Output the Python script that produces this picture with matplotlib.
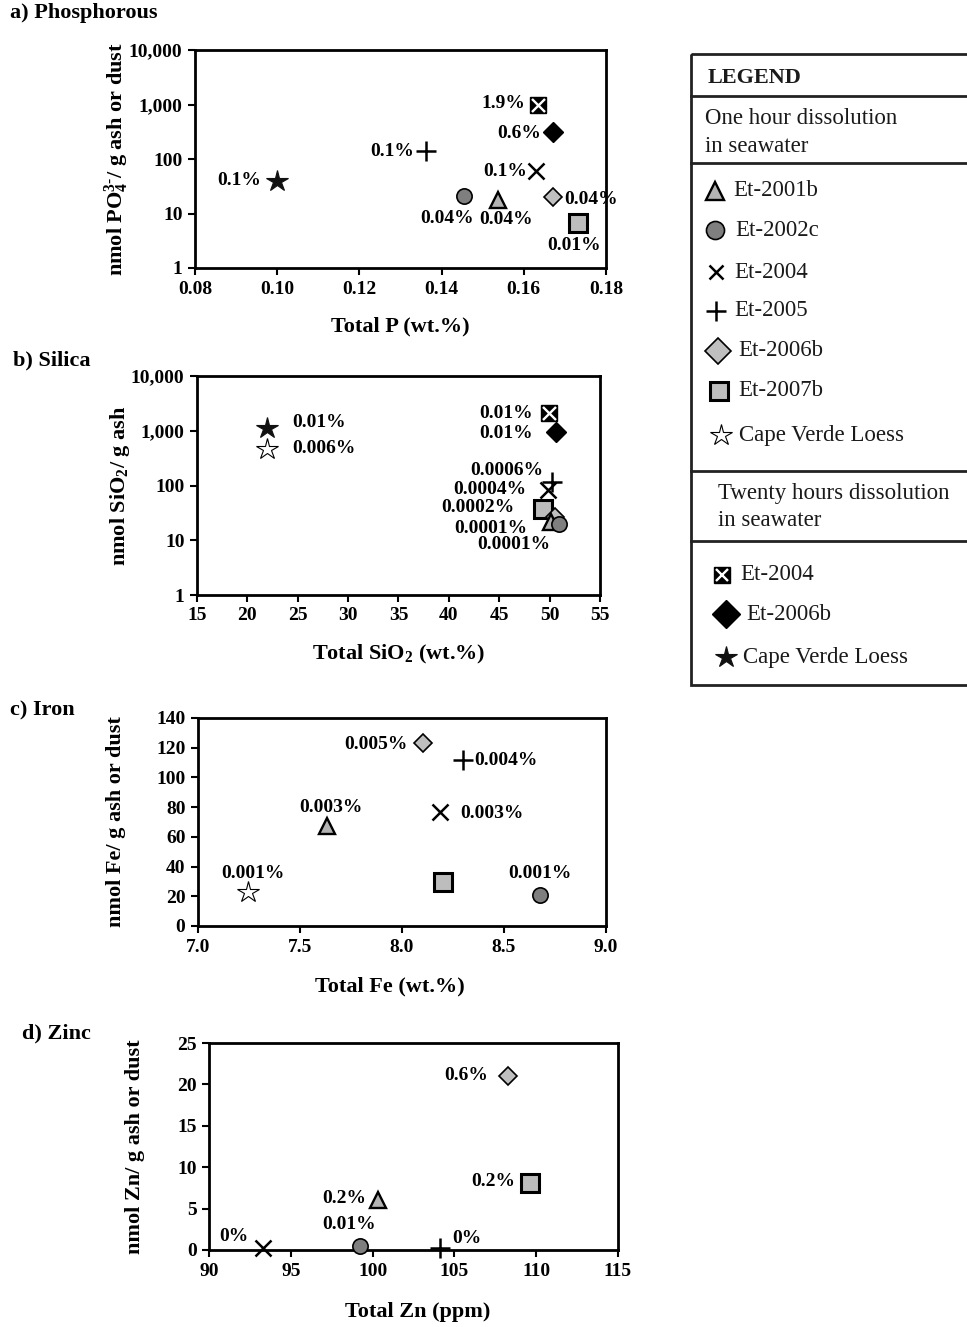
import matplotlib
matplotlib.use("Agg")
import matplotlib.pyplot as plt
from matplotlib.ticker import NullLocator
from matplotlib.patches import Rectangle

plt.rcParams["font.family"] = ["Liberation Serif", "DejaVu Serif"]
plt.rcParams["font.weight"] = "bold"
plt.rcParams["mathtext.fontset"] = "custom"
plt.rcParams["mathtext.rm"] = "Liberation Serif:bold"
plt.rcParams["mathtext.it"] = "Liberation Serif:bold"
plt.rcParams["mathtext.bf"] = "Liberation Serif:bold"

# ---- data ----
# a) Phosphorous
p_samples = ["Et-2001b", "Et-2002c", "Et-2004", "Et-2005", "Et-2006b", "Et-2007b",
             "Loess20", "Et-2004_20", "Et-2006b_20"]
p_total = [0.1538, 0.1455, 0.163, 0.1362, 0.167, 0.1732, 0.100, 0.1634, 0.167]
p_nmol = [18, 21, 61, 138, 20, 6.8, 40, 1000, 316]
p_pct = ["0.04%", "0.04%", "0.1%", "0.1%", "0.04%", "0.01%", "0.1%", "1.9%", "0.6%"]

# b) Silica
si_samples = ["Et-2007b", "Et-2006b", "Et-2001b", "Et-2002c", "Et-2004", "Et-2005",
              "Loess", "Loess20", "Et-2004_20", "Et-2006b_20"]
si_total = [49.3, 50.5, 50.1, 50.9, 49.8, 50.2, 21.9, 21.9, 49.9, 50.6]
si_nmol = [37.5, 26.7, 22, 19.8, 84, 114, 464, 1130, 2150, 960]
si_pct = ["0.0002%", "", "0.0001%", "0.0001%", "0.0004%", "0.0006%",
          "0.006%", "0.01%", "0.01%", "0.01%"]

# c) Iron
fe_samples = ["Et-2006b", "Et-2005", "Et-2004", "Et-2001b", "Loess", "Et-2007b", "Et-2002c"]
fe_total = [8.104, 8.297, 8.188, 7.634, 7.243, 8.20, 8.678]
fe_nmol = [123, 112, 76.4, 67, 23, 29.7, 21]
fe_pct = ["0.005%", "0.004%", "0.003%", "0.003%", "0.001%", "", "0.001%"]

# d) Zinc
zn_samples = ["Et-2006b", "Et-2007b", "Et-2001b", "Et-2002c", "Et-2004", "Et-2005"]
zn_total = [108.3, 109.6, 100.3, 99.2, 93.3, 104.1]
zn_nmol = [21.0, 8.05, 6.0, 0.5, 0.2, 0.3]
zn_pct = ["0.6%", "0.2%", "0.2%", "0.01%", "0%", "0%"]

# ---- styles ----
STYLE = {
    "Et-2001b": dict(marker="^", ms=12, mfc="#b3b3b3", mec="black", mew=1.7),
    "Et-2002c": dict(marker="o", ms=11, mfc="#7f7f7f", mec="black", mew=1.2),
    "Et-2004": dict(marker="x", ms=12, mfc="black", mec="black", mew=1.8),
    "Et-2005": dict(marker="+", ms=14, mfc="black", mec="black", mew=1.8),
    "Et-2006b": dict(marker="D", ms=9, mfc="#bfbfbf", mec="black", mew=1.2),
    "Et-2007b": dict(marker="s", ms=13, mfc="#bdbdbd", mec="black", mew=2.2),
    "Loess": dict(marker="*", ms=16, mfc="white", mec="black", mew=0.8),
    "Loess20": dict(marker="*", ms=16, mfc="#111111", mec="#111111", mew=0.8),
    "Et-2004_20": dict(marker="s", ms=12, mfc="black", mec="black", mew=1.0),
    "Et-2006b_20": dict(marker="D", ms=10, mfc="black", mec="black", mew=1.0),
}
# marker sizes used in the legend box
LEGEND_MS = {"Et-2001b": 13, "Et-2002c": 13, "Et-2004": 10, "Et-2005": 15, "Et-2006b": 13,
             "Et-2007b": 13, "Loess": 16, "Et-2004_20": 11, "Et-2006b_20": 14, "Loess20": 16}


def draw(ax, x, y, key, ms=None):
    st = dict(STYLE[key])
    if ms is not None:
        st["ms"] = ms
    ax.plot([x], [y], linestyle="none", clip_on=False, zorder=3, **st)
    if key == "Et-2004_20":
        ax.plot([x], [y], linestyle="none", marker="x", ms=st["ms"] * 0.78, mec="white",
                mew=1.7, clip_on=False, zorder=4)


# label offsets in pixels (dx, dy up)
p_off = {"Et-2001b": (8, -20), "Et-2002c": (-17, -23), "Et-2004": (-31, -1), "Et-2005": (-34, 0),
         "Et-2006b": (38, -2), "Et-2007b": (-4, -23), "Loess20": (-38, 0),
         "Et-2004_20": (-34, 1), "Et-2006b_20": (-33, -2)}
si_off = {"Et-2007b": (-65, 1), "Et-2006b": (0, 0), "Et-2001b": (-60, -7), "Et-2002c": (-45, -20),
          "Et-2004": (-58, 0), "Et-2005": (-45, 12), "Loess": (57, 1), "Loess20": (53, 5),
          "Et-2004_20": (-43, -1), "Et-2006b_20": (-50, -2)}
fe_off = {"Et-2006b": (-47, -1), "Et-2005": (43, -1), "Et-2004": (52, -1), "Et-2001b": (4, 19),
          "Loess": (5, 18), "Et-2007b": (0, 0), "Et-2002c": (0, 21)}
zn_off = {"Et-2006b": (-42, 1), "Et-2007b": (-36, 2), "Et-2001b": (-33, 2), "Et-2002c": (-10, 21),
          "Et-2004": (-29, 12), "Et-2005": (27, 9)}

W, H = 967, 1327
TICK_FS = 14
ANNOT_FS = 14
LABEL_FS = 16
fig = plt.figure(figsize=(W / 100, H / 100), dpi=100)


def make_axes(left, right, top, bottom):
    ax = fig.add_axes([left / W, 1 - bottom / H, (right - left) / W, (bottom - top) / H])
    for s in ax.spines.values():
        s.set_linewidth(2)
    ax.tick_params(direction="out", length=5, width=1.5, labelsize=TICK_FS)
    ax.tick_params(axis="x", pad=4)
    ax.tick_params(axis="y", pad=4)
    return ax


def scatter_panel(ax, samples, xs, ys, pcts, offs):
    for k, x, y, t in zip(samples, xs, ys, pcts):
        draw(ax, x, y, k)
        if t:
            dx, dy = offs[k]
            ax.annotate(t, (x, y), xytext=(dx, dy), textcoords="offset pixels",
                        ha="center", va="center", fontsize=ANNOT_FS, fontweight="bold")


# a) Phosphorous
ax = make_axes(195, 606, 50, 268)
ax.set_yscale("log")
ax.set_xlim(0.08, 0.18)
ax.set_ylim(1, 10000)
ax.set_xticks([0.08, 0.10, 0.12, 0.14, 0.16, 0.18], ["0.08", "0.10", "0.12", "0.14", "0.16", "0.18"])
ax.set_yticks([1, 10, 100, 1000, 10000], ["1", "10", "100", "1,000", "10,000"])
ax.yaxis.set_minor_locator(NullLocator())
scatter_panel(ax, p_samples, p_total, p_nmol, p_pct, p_off)
ax.set_xlabel("Total P (wt.%)", fontsize=LABEL_FS, fontweight="bold", va="center")
ax.xaxis.set_label_coords(0.5, -0.266)
ax.set_ylabel(r"nmol PO$_4^{3\text{-}}$/ g ash or dust", fontsize=LABEL_FS, fontweight="bold",
              va="center")
ax.yaxis.set_label_coords(-0.19, 0.5)

# b) Silica
ax = make_axes(197, 600, 376, 595)
ax.set_yscale("log")
ax.set_xlim(15, 55)
ax.set_ylim(1, 10000)
ax.set_xticks(range(15, 56, 5))
ax.set_yticks([1, 10, 100, 1000, 10000], ["1", "10", "100", "1,000", "10,000"])
ax.yaxis.set_minor_locator(NullLocator())
scatter_panel(ax, si_samples, si_total, si_nmol, si_pct, si_off)
ax.set_xlabel(r"Total SiO$_2$ (wt.%)", fontsize=LABEL_FS, fontweight="bold", va="center")
ax.xaxis.set_label_coords(0.5, -0.27)
ax.set_ylabel(r"nmol SiO$_2$/ g ash", fontsize=LABEL_FS, fontweight="bold", va="center")
ax.yaxis.set_label_coords(-0.19, 0.5)

# c) Iron
ax = make_axes(198, 606, 718, 926)
ax.set_xlim(7.0, 9.0)
ax.set_ylim(0, 140)
ax.set_xticks([7.0, 7.5, 8.0, 8.5, 9.0], ["7.0", "7.5", "8.0", "8.5", "9.0"])
ax.set_yticks(range(0, 141, 20))
scatter_panel(ax, fe_samples, fe_total, fe_nmol, fe_pct, fe_off)
ax.set_xlabel("Total Fe (wt.%)", fontsize=LABEL_FS, fontweight="bold", va="center")
ax.xaxis.set_label_coords(0.47, -0.293)
ax.set_ylabel("nmol Fe/ g ash or dust", fontsize=LABEL_FS, fontweight="bold", va="center")
ax.yaxis.set_label_coords(-0.20, 0.5)

# d) Zinc
ax = make_axes(209, 618, 1043, 1250)
ax.set_xlim(90, 115)
ax.set_ylim(0, 25)
ax.set_xticks(range(90, 116, 5))
ax.set_yticks(range(0, 26, 5))
scatter_panel(ax, zn_samples, zn_total, zn_nmol, zn_pct, zn_off)
ax.set_xlabel("Total Zn (ppm)", fontsize=LABEL_FS, fontweight="bold", va="center")
ax.xaxis.set_label_coords(0.51, -0.30)
ax.set_ylabel("nmol Zn/ g ash or dust", fontsize=LABEL_FS, fontweight="bold", va="center")
ax.yaxis.set_label_coords(-0.18, 0.5)

# panel titles
for label, x, y in [("a) Phosphorous", 10, 13), ("b) Silica", 13, 360),
                    ("c) Iron", 10, 710), ("d) Zinc", 22, 1033)]:
    fig.text(x / W, 1 - y / H, label, fontsize=16, fontweight="bold", va="center", ha="left")

# ---- legend panel (drawn in pixel space) ----
lg = fig.add_axes([0, 0, 1, 1], zorder=5)
lg.set_xlim(0, W)
lg.set_ylim(H, 0)
lg.axis("off")
lg.patch.set_alpha(0)
lg.add_patch(Rectangle((691, 54), 300, 631, fill=False, lw=2, ec="#222222", clip_on=False))
for yy in [96, 163, 471, 541]:
    lg.plot([691, W], [yy, yy], color="#222222", lw=2)

LEG_FS = 16.5
lg.text(708, 78, "LEGEND", fontsize=16, fontweight="bold", va="center", color="#1a1a1a")
for txt, x, y in [("One hour dissolution", 705, 119), ("in seawater", 705, 146),
                  ("Twenty hours dissolution", 718, 494), ("in seawater", 718, 521)]:
    lg.text(x, y, txt, fontsize=LEG_FS, fontweight="normal", va="center", color="#1a1a1a")

legend_rows = [("Et-2001b", "Et-2001b", 715, 733, 191),
               ("Et-2002c", "Et-2002c", 715, 735, 230),
               ("Et-2004", "Et-2004", 716, 734, 272),
               ("Et-2005", "Et-2005", 716, 734, 311),
               ("Et-2006b", "Et-2006b", 718, 738, 351),
               ("Et-2007b", "Et-2007b", 719, 738, 391),
               ("Loess", "Cape Verde Loess", 721, 739, 435),
               ("Et-2004_20", "Et-2004", 722, 740, 575),
               ("Et-2006b_20", "Et-2006b", 726, 746, 614),
               ("Loess20", "Cape Verde Loess", 726, 743, 657)]
for key, name, mx, tx, yy in legend_rows:
    draw(lg, mx, yy, key, ms=LEGEND_MS[key])
    lg.text(tx, yy, name, fontsize=LEG_FS, fontweight="normal", va="center", color="#1a1a1a")

fig.savefig("out.png", dpi=100)
